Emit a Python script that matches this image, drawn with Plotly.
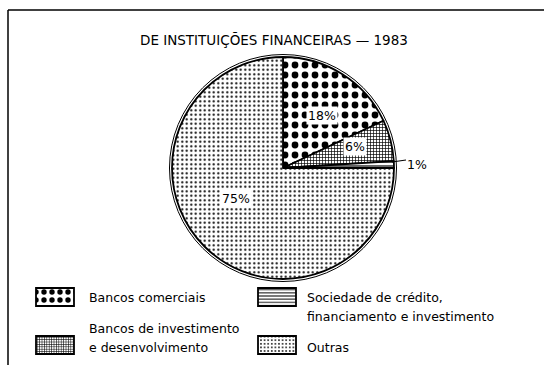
import math
import plotly.graph_objects as go

W, H = 544, 365

# Data: share of financial institutions, 1983 (%)
categories = ["Bancos comerciais", "Bancos de investimento\ne desenvolvimento",
              "Sociedade de crédito,\nfinanciamento e investimento", "Outras"]
values = [18, 6, 1, 75]
value_labels = ["18%", "6%", "1%", "75%"]

# Fill patterns for each slice / legend swatch
pat_shape = [".", "+", "-", "."]
pat_size = [10, 3, 4, 4.5]
pat_solid = [0.36, 0.4, 0.3, 0.18]

# Pie geometry in pixels
cx, cy, r = 283, 168, 111


def px(x):
    return x / W


def py(y):
    return 1 - y / H


FONT = "DejaVu Sans"
FS = 12.5

fig = go.Figure()

fig.add_trace(go.Pie(
    labels=categories,
    values=values,
    sort=False,
    direction="clockwise",
    rotation=0,
    textinfo="none",
    hoverinfo="label+percent",
    showlegend=False,
    domain=dict(x=[px(cx - r), px(cx + r)], y=[py(cy + r), py(cy - r)]),
    marker=dict(
        colors=["white"] * 4,
        line=dict(color="black", width=1.8),
        pattern=dict(shape=pat_shape, size=pat_size, solidity=pat_solid,
                     fgcolor="black", bgcolor="white", fgopacity=1,
                     fillmode="overlay"),
    ),
))

# Legend swatches drawn as bars on a hidden pixel-space axis
sw_x = [36, 36, 258, 258]
sw_y = [288, 336, 288, 336]
sw_w, sw_h = 38, 18
for i, cat in enumerate(categories):
    fig.add_trace(go.Bar(
        x=[sw_x[i] + sw_w / 2], y=[sw_h], base=[sw_y[i]], width=[sw_w],
        marker=dict(color="white", line=dict(color="black", width=1.8),
                    pattern=dict(shape=pat_shape[i], size=pat_size[i] * 0.8,
                                 solidity=pat_solid[i], fgcolor="black",
                                 bgcolor="white", fgopacity=1,
                                 fillmode="overlay")),
        showlegend=False, hoverinfo="skip",
    ))

# Legend texts
leg_text = [
    (87, 297, "Bancos comerciais"),
    (87, 328, "Bancos de investimento"),
    (87, 347, "e desenvolvimento"),
    (305, 297, "Sociedade de crédito,"),
    (305, 316, "financiamento e investimento"),
    (305, 347, "Outras"),
]
annotations = []
for x, y, t in leg_text:
    annotations.append(dict(x=px(x), y=py(y), xref="paper", yref="paper",
                             text=t, showarrow=False, xanchor="left",
                             yanchor="middle",
                             font=dict(family=FONT, size=FS, color="black")))

# Slice value labels placed along each slice's mid angle
radial_k = [0.66, 0.78, 1.14, 0.52]
cum = 0
total = sum(values)
for i, v in enumerate(values):
    mid = (cum + v / 2) / total * 2 * math.pi
    cum += v
    lx = cx + r * radial_k[i] * math.sin(mid)
    ly = cy - r * radial_k[i] * math.cos(mid)
    if i == 3:
        lx -= 6
        ly -= 10
    a = dict(x=px(lx), y=py(ly), xref="paper", yref="paper",
             text=value_labels[i], showarrow=False,
             font=dict(family=FONT, size=FS, color="black"))
    if i in (0, 1, 3):
        a.update(bgcolor="white", borderpad=1)
    if i == 2:
        a.update(xanchor="left", x=px(lx - 4))
    annotations.append(a)

# Title
annotations.append(dict(x=px(274), y=py(30), xref="paper", yref="paper",
                        text="DE INSTITUIÇÕES FINANCEIRAS — 1983",
                        showarrow=False,
                        font=dict(family=FONT, size=13.5, color="black")))

shapes = [
    # outer ring of the pie
    dict(type="circle", xref="paper", yref="paper",
         x0=px(cx - r - 2.5), x1=px(cx + r + 2.5),
         y0=py(cy + r + 2.5), y1=py(cy - r - 2.5),
         line=dict(color="black", width=1)),
    # leader line for the 1% label
    dict(type="line", xref="paper", yref="paper",
         x0=px(cx + r - 2), x1=px(cx + r + 12),
         y0=py(cy - 6), y1=py(cy - 8),
         line=dict(color="black", width=1.2)),
    # frame
    dict(type="line", xref="paper", yref="paper",
         x0=px(8), x1=px(W + 5), y0=py(10), y1=py(10),
         line=dict(color="black", width=1.5)),
    dict(type="line", xref="paper", yref="paper",
         x0=px(8), x1=px(8), y0=py(10), y1=py(H + 5),
         line=dict(color="black", width=1.5)),
]

fig.update_layout(
    width=W, height=H,
    margin=dict(l=0, r=0, t=0, b=0),
    paper_bgcolor="white", plot_bgcolor="rgba(0,0,0,0)",
    xaxis=dict(range=[0, W], domain=[0, 1], visible=False, fixedrange=True),
    yaxis=dict(range=[H, 0], domain=[0, 1], visible=False, fixedrange=True),
    annotations=annotations,
    shapes=shapes,
    barmode="overlay",
    showlegend=False,
)

fig.write_html("out.html")
